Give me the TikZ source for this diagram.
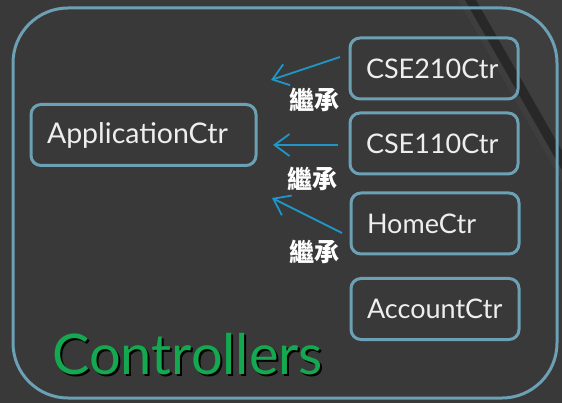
\documentclass[tikz,border=0pt]{standalone}
\usepackage{fontspec}
\setmainfont{Lato}
\newfontfamily\cjk{Noto Sans CJK TC}
\usetikzlibrary{arrows.meta}
\definecolor{bg}{RGB}{57,57,57}
\definecolor{bgtex}{RGB}{62,62,62}
\definecolor{band}{RGB}{40,40,40}
\definecolor{framec}{RGB}{108,160,180}
\definecolor{arrowc}{RGB}{30,150,200}
\definecolor{ctrgreen}{RGB}{20,168,80}
\definecolor{txt}{RGB}{238,238,238}
\begin{document}
\begin{tikzpicture}[x=1pt,y=-1pt,
  ctrbox/.style={draw=framec, line width=3pt, rounded corners=10pt,
    minimum height=61pt, inner xsep=16pt, inner ysep=0pt,
    text width=136pt, align=left, text=txt,
    font=\fontsize{27}{30}\selectfont,
    execute at begin node={\hyphenpenalty=10000\exhyphenpenalty=10000}},
  inh/.style={draw=arrowc, line width=1.8pt,
    -{Straight Barb[length=15pt,width=22pt]}},
  lbl/.style={text=white, font=\cjk\bfseries\fontsize{25}{27}\selectfont, inner sep=0pt}]
\fill[bg] (0,0) rectangle (562,403);
\useasboundingbox (0,0) rectangle (562,403);
% diagonal texture at top right
\fill[bgtex] (458,0) -- (562,0) -- (562,182) -- cycle;
\fill[band] (465,0) -- (476,0) -- (562,151) -- (562,170) -- cycle;
% container
\node[draw=framec, line width=3pt, rounded corners=55pt, minimum width=544pt,
      minimum height=390pt, inner sep=0pt] (container) at (285,203) {};
% boxes
\node[ctrbox, text width=193pt, inner xsep=16pt, font=\fontsize{28.5}{30}\selectfont] (app) at (143.5,135) {ApplicationCtr};
\node[ctrbox] (cse210) at (434,68.5) {CSE210Ctr};
\node[ctrbox] (cse110) at (434,143.5) {CSE110Ctr};
\node[ctrbox] (home) at (435,223.5) {HomeCtr};
\node[ctrbox] (account) at (435,309) {AccountCtr};
% arrow ends
\coordinate (t1) at (340,57);
\coordinate (h1) at (271,80);
\coordinate (t2) at (338,145);
\coordinate (h2) at (273,145);
\coordinate (t3) at (342,233);
\coordinate (h3) at (272,198);
\draw[inh] (t1) -- (h1);
\draw[inh] (t2) -- (h2);
\draw[inh] (t3) -- (h3);
% labels
\node[lbl] (l1) at (314,100) {繼承};
\node[lbl] (l2) at (312,179) {繼承};
\node[lbl] (l3) at (314,252) {繼承};
% title with shadow
\node[anchor=base west, inner sep=0pt, text=ctrgreen, font=\fontsize{56}{60}\selectfont] (title) at (52,374)
  {\makebox[0pt][l]{\hspace{2pt}\raisebox{-2pt}{\color{black}Controllers}}Controllers};
\end{tikzpicture}
\end{document}
